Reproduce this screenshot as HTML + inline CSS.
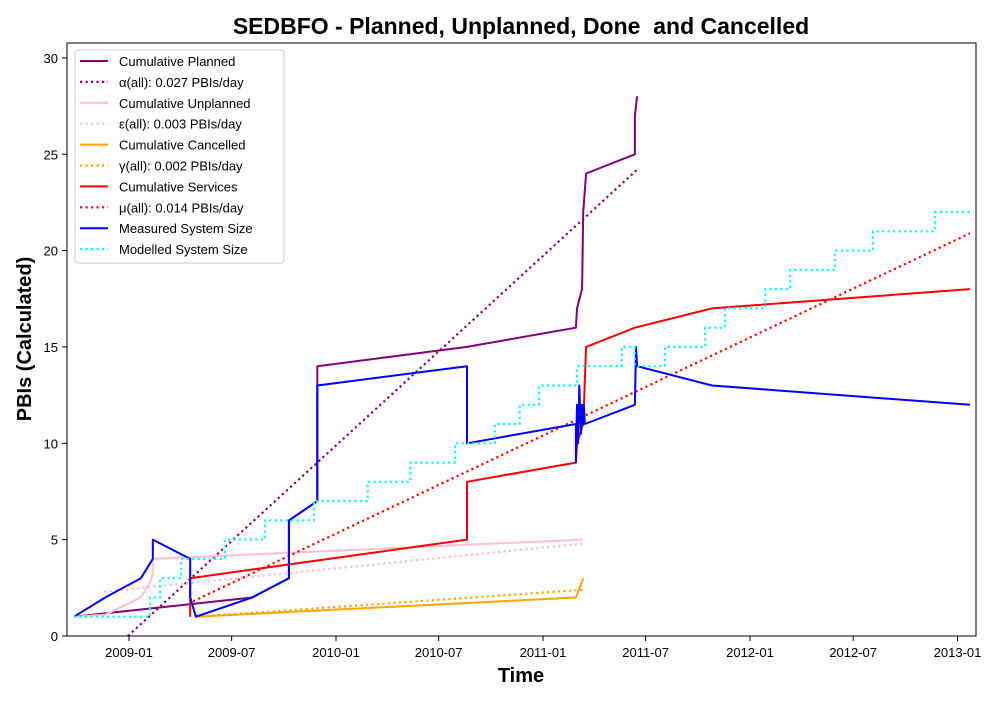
<!DOCTYPE html>
<html><head><meta charset="utf-8"><style>
body{margin:0;background:#fff;font-family:"Liberation Sans","DejaVu Sans",sans-serif}
</style></head><body>
<svg id="chart" width="1000" height="700" xmlns="http://www.w3.org/2000/svg" font-family="Liberation Sans, DejaVu Sans, sans-serif">
<rect width="1000" height="700" fill="#fff"/>
<text x="521" y="34" text-anchor="middle" font-size="23" font-weight="bold" style="white-space:pre">SEDBFO - Planned, Unplanned, Done  and Cancelled</text>
<text x="521" y="682" text-anchor="middle" font-size="20" font-weight="bold">Time</text>
<text transform="translate(31,339) rotate(-90)" text-anchor="middle" font-size="20" font-weight="bold">PBIs (Calculated)</text>
<g id="axes"></g>
<g id="series"></g>
<rect x="67" y="43" width="909" height="593" fill="none" stroke="#000" stroke-width="1"/>
<g id="legend"></g>
</svg>
<script>
// x values are days since 2009-01-01
const xTickDays = [0,181,365,546,730,911,1095,1277,1461];
const xTickLabels = ["2009-01","2009-07","2010-01","2010-07","2011-01","2011-07","2012-01","2012-07","2013-01"];
const yTicks = [0,5,10,15,20,25,30];
const plannedX = [-97,217,282,282,332,332,596,788,790,799,801,806,892,892,896];
const plannedY = [1,2,3,6,7,14,15,16,17,18,22,24,25,27,28];
const plannedFitX = [-2,896];
const plannedFitY = [0,24.2];
const unplannedX = [-97,-42,21,37,42,42,801];
const unplannedY = [1,1.1,2,2.8,3.2,4,5];
const unplannedFitX = [-44,801];
const unplannedFitY = [2.3,4.8];
const cancelledX = [118,788,801];
const cancelledY = [1,2,3];
const cancelledFitX = [118,801];
const cancelledFitY = [1,2.4];
const servicesX = [108,108,596,596,788,790,801,806,892,1028,1483];
const servicesY = [1,3,5,8,9,10,11,15,16,17,18];
const servicesFitX = [113,1483];
const servicesFitY = [1.8,20.9];
const measuredX = [-97,-42,21,42,42,108,108,118,217,282,282,332,332,596,596,788,788,790,792,794,797,799,801,802,804,892,894,896,1028,1483];
const measuredY = [1,2,3,4,5,4,2,1,2,3,6,7,13,14,10,11,9,12,10,13,10.5,12,11,12,11,12,15,14,13,12];
const modelStepX = [-97,37,55,92,169,240,326,421,496,575,645,689,723,790,869,892,945,1016,1051,1122,1166,1245,1312,1421];
const modelStepY = [1,2,3,4,5,6,7,8,9,10,11,12,13,14,15,14,15,16,17,18,19,20,21,22];
const modelEnd = 1483;

const X0=129, PXD=0.5671, Y0=636, PYU=19.27;
const sx = d => X0 + d*PXD;
const sy = v => Y0 - v*PYU;
const NS="http://www.w3.org/2000/svg";
const axes=document.getElementById('axes'), series=document.getElementById('series'), legend=document.getElementById('legend');
function mk(tag, attrs, parent){const e=document.createElementNS(NS,tag);for(const k in attrs)e.setAttribute(k,attrs[k]);parent.appendChild(e);return e;}

xTickDays.forEach((d,i)=>{
  const t=mk('line',{x1:sx(d),x2:sx(d),y1:636,y2:641,stroke:'#000'},axes);
  
  
  const l=mk('text',{x:sx(d),y:657,'text-anchor':'middle','font-size':'13'},axes);
  l.textContent=xTickLabels[i];
  
  
});
yTicks.forEach(v=>{
  const t=mk('line',{x1:62,x2:67,y1:sy(v),y2:sy(v),stroke:'#000'},axes);
  
  
  const l=mk('text',{x:58,y:sy(v)+5,'text-anchor':'end','font-size':'13'},axes);
  l.textContent=v;
  
  
});

function line(xs,ys,color,dotted,name){
  const pts=xs.map((x,i)=>sx(x).toFixed(1)+','+sy(ys[i]).toFixed(1)).join(' ');
  const p=mk('polyline',{points:pts,fill:'none',stroke:color,'stroke-width':dotted?2.2:2,'stroke-linejoin':'round'},series);
  if(dotted){p.setAttribute('stroke-dasharray','2.2,3.3');}
  
  
}
const mx=[],my=[];
modelStepX.forEach((x,i)=>{ if(i>0){mx.push(x);my.push(modelStepY[i-1]);} mx.push(x);my.push(modelStepY[i]); });
mx.push(modelEnd);my.push(modelStepY[modelStepY.length-1]);

line(plannedX,plannedY,'purple',false,'cumulative-planned-line');
line(plannedFitX,plannedFitY,'purple',true,'planned-rate-line');
line(unplannedX,unplannedY,'pink',false,'cumulative-unplanned-line');
line(unplannedFitX,unplannedFitY,'pink',true,'unplanned-rate-line');
line(cancelledX,cancelledY,'orange',false,'cumulative-cancelled-line');
line(cancelledFitX,cancelledFitY,'orange',true,'cancelled-rate-line');
line(servicesX,servicesY,'red',false,'cumulative-services-line');
line(servicesFitX,servicesFitY,'red',true,'services-rate-line');
line(measuredX,measuredY,'blue',false,'measured-system-size-line');
line(mx,my,'cyan',true,'modelled-system-size-line');

const legItems=[["Cumulative Planned","purple",false],["α(all): 0.027 PBIs/day","purple",true],["Cumulative Unplanned","pink",false],["ε(all): 0.003 PBIs/day","pink",true],["Cumulative Cancelled","orange",false],["γ(all): 0.002 PBIs/day","orange",true],["Cumulative Services","red",false],["μ(all): 0.014 PBIs/day","red",true],["Measured System Size","blue",false],["Modelled System Size","cyan",true]];
const box=mk('rect',{x:75,y:50,width:209,height:213,rx:3,fill:'#fff',stroke:'#ccc','fill-opacity':0.8},legend);


legItems.forEach((it,i)=>{
  const y=61+i*20.9;
  const g=mk('g',{},legend);
  
  
  const l=mk('line',{x1:80,x2:108,y1:y,y2:y,stroke:it[1],'stroke-width':it[2]?2.2:2},g);
  if(it[2])l.setAttribute('stroke-dasharray','2.2,3.3');
  const t=mk('text',{x:119,y:y+5,'font-size':'13'},g);
  t.textContent=it[0];
});
</script>
</body></html>
